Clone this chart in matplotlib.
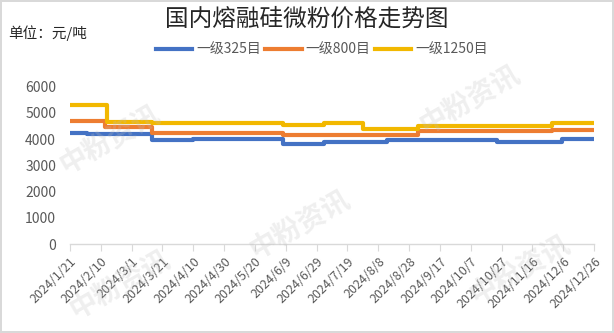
import matplotlib
matplotlib.use("Agg")
import matplotlib.pyplot as plt
import matplotlib.dates as mdates
import numpy as np
import datetime as dt

plt.rcParams['font.family'] = ['Noto Sans CJK SC', 'DejaVu Sans']

# step data: dates where the price changes, and the value from that date on
end_date = "2024-12-26"

dates_325 = ["2024-01-21", "2024-02-01", "2024-03-14", "2024-04-10", "2024-06-07",
             "2024-07-04", "2024-08-14", "2024-10-24", "2024-12-05"]
price_325 = [4250, 4200, 3950, 4000, 3800, 3900, 3950, 3900, 4000]

dates_800 = ["2024-01-21", "2024-02-13", "2024-03-14", "2024-06-07", "2024-09-03",
             "2024-11-29"]
price_800 = [4700, 4450, 4250, 4150, 4300, 4350]

dates_1250 = ["2024-01-21", "2024-02-14", "2024-03-14", "2024-06-07", "2024-07-04",
              "2024-07-29", "2024-09-03", "2024-11-29"]
price_1250 = [5300, 4650, 4600, 4550, 4600, 4400, 4500, 4600]

series_names = ["一级325目", "一级800目", "一级1250目"]
colors = ["#4472C4", "#ED7D31", "#F2B800"]

tick_dates = [dt.date(2024, 1, 21) + dt.timedelta(days=20 * i) for i in range(18)]
tick_labels = [f"{d.year}/{d.month}/{d.day}" for d in tick_dates]


def to_step(dates, vals):
    d = [np.datetime64(x) for x in dates] + [np.datetime64(end_date)]
    v = list(vals) + [vals[-1]]
    return d, v


fig = plt.figure(figsize=(6.14, 3.33), dpi=100)
fig.patch.set_edgecolor("#D9D9D9")
fig.patch.set_linewidth(1.5)
ax = fig.add_axes([70 / 614, 1 - 244 / 333, 524 / 614, (244 - 86.7) / 333])

for dates, vals, name, c in zip([dates_325, dates_800, dates_1250],
                                [price_325, price_800, price_1250],
                                series_names, colors):
    d, v = to_step(dates, vals)
    ax.step(d, v, where="post", color=c, lw=3, label=name, zorder=3)

ax.set_ylim(0, 6000)
ax.set_yticks(range(0, 6001, 1000))
ax.set_xlim(mdates.date2num(tick_dates[0]), mdates.date2num(tick_dates[-1]))
ax.set_xticks(mdates.date2num(tick_dates))
ax.set_xticklabels(tick_labels, rotation=45, ha="right", rotation_mode="anchor",
                   fontsize=9, color="#595959")
ax.tick_params(axis="y", length=0, labelsize=10, labelcolor="#595959", pad=10)
ax.tick_params(axis="x", length=5, color="#D9D9D9", direction="out", pad=3)
for s in ["left", "right", "top"]:
    ax.spines[s].set_visible(False)
ax.spines["bottom"].set_color("#D9D9D9")
ax.spines["bottom"].set_linewidth(1)

fig.text(0.5, 1 - 19 / 333, "国内熔融硅微粉价格走势图", ha="center", va="center",
         fontsize=17, color="#262626")
fig.text(8 / 614, 1 - 33 / 333, "单位：元/吨", ha="left", va="center",
         fontsize=10.5, color="#262626")

fig.legend(loc="center", bbox_to_anchor=(322 / 614, 1 - 50 / 333), ncol=3,
           frameon=False, fontsize=10, handlelength=2.6, columnspacing=0.3,
           handletextpad=0.3, labelcolor="#595959")

# faint watermarks
wm = [(110, 140), (300, 225), (470, 100), (120, 285), (520, 270)]
for x, y in wm:
    fig.text(x / 614, 1 - y / 333, "中粉资讯", ha="center", va="center",
             fontsize=20, rotation=30, color="#BFBFBF", alpha=0.25,
             fontweight="bold", zorder=0)

fig.savefig("out.png", dpi=100)
